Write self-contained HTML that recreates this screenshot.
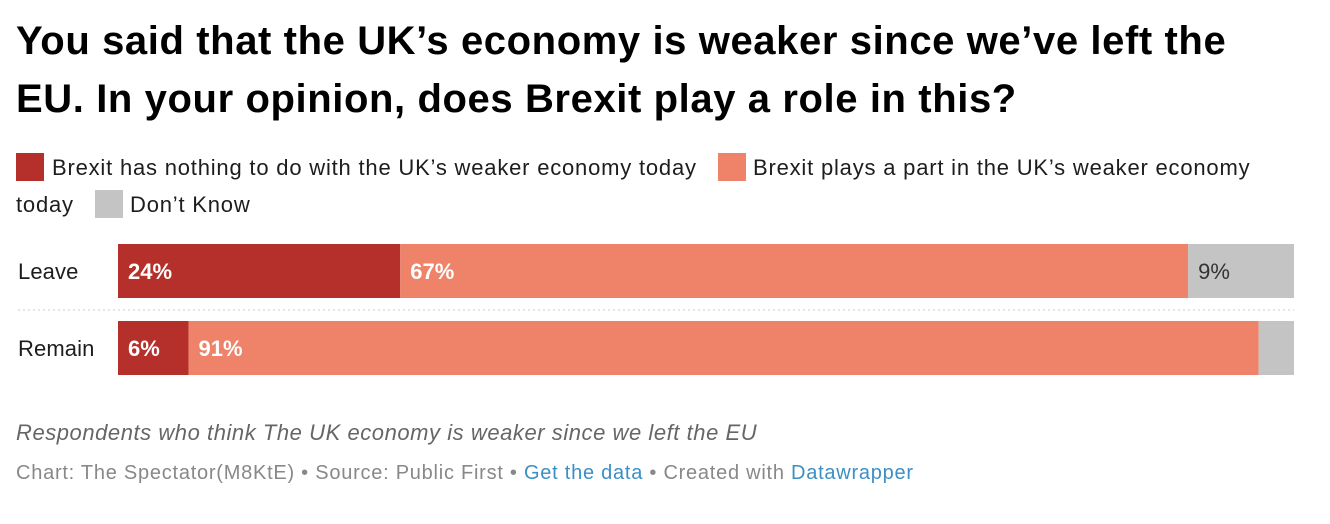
<!DOCTYPE html>
<html><head><meta charset="utf-8"><style>
body{margin:0;width:1330px;height:524px;background:#fff;font-family:"Liberation Sans",sans-serif;color:#1d1d1d;overflow:hidden;position:relative}
.title{position:absolute;left:16px;top:12px;width:1310px;font-size:40px;font-weight:bold;line-height:58px;color:#000;letter-spacing:0.6px;white-space:nowrap}
.lt{position:absolute;font-size:22px;line-height:28px;letter-spacing:0.8px;white-space:nowrap}
.sw{position:absolute;width:28px;height:28px}
.note{position:absolute;left:16px;top:420px;font-size:22px;font-style:italic;color:#666;letter-spacing:0.55px}
.src{position:absolute;left:16px;top:462px;font-size:20px;color:#888;letter-spacing:0.75px}
.src a{color:#3b8fc4;text-decoration:none}
</style></head><body>
<div class="title">You said that the UK’s economy is weaker since we’ve left the<br>EU. In your opinion, does Brexit play a role in this?</div>
<div>
<div><span class="sw" style="left:16px;top:153px;background:#b5302a"></span><span class="lt" style="left:52px;top:154px">Brexit has nothing to do with the UK’s weaker economy today</span></div>
<div><span class="sw" style="left:718px;top:153px;background:#ee836a"></span><span class="lt" style="left:753px;top:154px">Brexit plays a part in the UK’s weaker economy</span><span class="lt" style="left:16px;top:191px">today</span></div>
<div><span class="sw" style="left:95px;top:190px;background:#c4c4c4"></span><span class="lt" style="left:130px;top:191px">Don’t Know</span></div>
</div>
<svg id="chart" width="1330" height="524" style="position:absolute;left:0;top:0"></svg>
<div class="note">Respondents who think The UK economy is weaker since we left the EU</div>
<div class="src">Chart: The Spectator(M8KtE) • Source: Public First • <a>Get the data</a> • Created with <a>Datawrapper</a></div>
<script>
const categories=["Leave","Remain"];
const nothing=[24,6];
const part=[67,91];
const dontKnow=[9,3];
const series=[nothing,part,dontKnow];
const colors=["#b5302a","#ee836a","#c4c4c4"];
const textColors=["#fff","#fff","#333"];
const svg=document.getElementById('chart');
const NS="http://www.w3.org/2000/svg";
const x0=118,x1=1294,rowTop=244,rowStep=77,barH=54;
function x(v){return x0+(x1-x0)*v/100;}
categories.forEach((c,i)=>{
  const y=rowTop+i*rowStep;
  const lab=document.createElementNS(NS,'text');
  lab.setAttribute('x',18);lab.setAttribute('y',y+barH/2+8);
  lab.setAttribute('font-size','22');lab.setAttribute('fill','#1d1d1d');
  lab.setAttribute('letter-spacing','0.1');
  lab.textContent=c;
  
  
  svg.appendChild(lab);
  let acc=0;
  series.forEach((s,k)=>{
    const v=s[i];
    const r=document.createElementNS(NS,'rect');
    r.setAttribute('x',x(acc));r.setAttribute('y',y);
    r.setAttribute('width',x(acc+v)-x(acc));r.setAttribute('height',barH);
    r.setAttribute('fill',colors[k]);
    
    
    svg.appendChild(r);
    if(v>=5){
      const t=document.createElementNS(NS,'text');
      t.setAttribute('x',x(acc)+10);t.setAttribute('y',y+barH/2+8);
      t.setAttribute('font-size','22');t.setAttribute('fill',textColors[k]);
      if(k<2)t.setAttribute('font-weight','bold');
      t.textContent=v+'%';
      
      
      svg.appendChild(t);
    }
    acc+=v;
  });
  if(i<categories.length-1){
    const l=document.createElementNS(NS,'line');
    l.setAttribute('x1',18);l.setAttribute('x2',x1);
    l.setAttribute('y1',y+barH+12);l.setAttribute('y2',y+barH+12);
    l.setAttribute('stroke','#ccc');l.setAttribute('stroke-dasharray','2,3');
    
    
    svg.appendChild(l);
  }
});
</script>
</body></html>
